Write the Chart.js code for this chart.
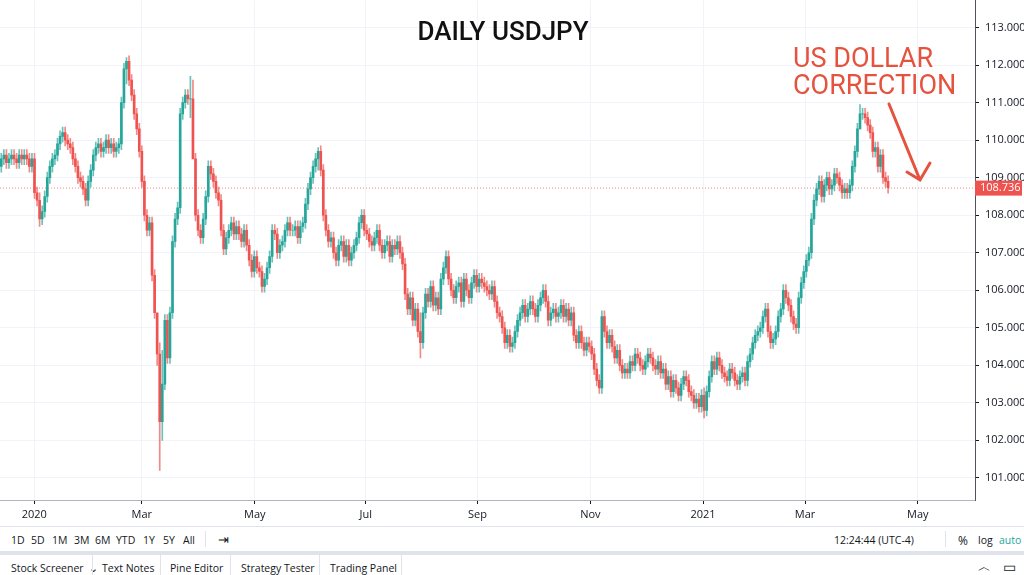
<!DOCTYPE html>
<html><head><meta charset="utf-8">
<script src="https://cdn.jsdelivr.net/npm/chart.js@4"></script>
<style>
body{margin:0;width:1024px;height:575px;overflow:hidden;background:#fff;font-family:"Open Sans",Roboto,sans-serif;color:#131722}
#wrap{position:absolute;left:0;top:-12px;width:1024px;height:538px}
.row{position:absolute;left:0;width:1024px;font-size:10.5px;background:#fff}
#tb{top:526px;height:25px;border-top:1px solid #e0e3eb}
#tb span{position:absolute;top:6px}
#tabs{top:551px;height:24px;border-top:4px solid #e0e3eb}
#tabs span{position:absolute;top:6px}
.sep{position:absolute;top:0;width:1px;height:24px;background:#e0e3eb}
</style></head><body>
<div id="wrap"><canvas id="c" width="1024" height="538"></canvas></div>
<div class="row" id="tb">
<span style="left:11px">1D</span><span style="left:31px">5D</span><span style="left:52px">1M</span><span style="left:74px">3M</span><span style="left:95px">6M</span><span style="left:116px">YTD</span><span style="left:143px">1Y</span><span style="left:163px">5Y</span><span style="left:183px">All</span>
<div class="sep" style="left:205px;top:4px;height:16px"></div>
<span style="left:218px;font-size:13px;top:3px">⇥</span>
<span style="left:834px">12:24:44 (UTC-4)</span>
<div class="sep" style="left:945px;top:4px;height:16px"></div>
<span style="left:958px;font-size:12px;top:5px">%</span><span style="left:978px">log</span><span style="left:999px;color:#26a69a">auto</span>
</div>
<div class="row" id="tabs">
<span style="left:11px">Stock Screener &nbsp;⌄</span><div class="sep" style="left:92px"></div>
<span style="left:102px">Text Notes</span><div class="sep" style="left:160px"></div>
<span style="left:170px">Pine Editor</span><div class="sep" style="left:230px"></div>
<span style="left:241px">Strategy Tester</span><div class="sep" style="left:319px"></div>
<span style="left:330px">Trading Panel</span><div class="sep" style="left:401px"></div>
<span style="left:978px;font-size:13px;top:2px">︿</span>
<span style="left:1003px;top:2px;font-size:14px">▭</span>
</div>
<script>
const closes = [
109.5,109.6,109.4,109.5,109.6,109.5,109.4,109.6,109.5,109.6,109.5,109.3,109.5,
108.6,108.4,107.9,108.1,108.5,
109.0,109.3,109.5,109.6,109.9,110.1,110.2,110.0,
109.9,109.8,109.5,109.3,109.0,108.9,108.7,108.4,108.9,
109.2,109.6,109.8,109.9,109.7,109.8,110.0,109.8,109.9,109.7,109.8,109.9,
111.0,111.9,112.1,111.6,
111.2,110.7,110.3,109.7,108.9,108.0,107.6,107.8,106.4,105.4,
104.3,102.5,103.5,105.2,104.2,105.4,107.3,107.9,108.2,
110.7,111.0,111.2,111.1,111.1,109.5,
108.0,107.6,107.4,107.9,
108.5,109.3,109.1,108.9,108.6,108.4,
107.6,107.1,107.4,107.6,107.8,107.5,107.7,107.5,107.3,107.6,107.2,106.8,106.5,
106.9,106.6,106.5,106.1,106.3,106.6,106.9,
107.6,107.5,107.0,107.2,107.3,107.6,107.8,107.6,107.6,107.7,107.4,107.7,
107.8,108.3,108.7,109.0,109.3,109.5,109.7,109.2,
108.0,107.6,107.3,107.4,107.0,106.8,107.2,107.3,106.9,107.2,
106.8,107.0,107.2,107.4,107.8,108.0,
107.6,107.5,107.3,107.2,107.4,107.6,107.2,107.0,107.2,107.3,106.9,107.2,107.1,107.3,107.0,
106.7,105.9,105.5,105.8,105.2,105.5,104.9,104.6,
105.4,105.9,105.7,106.1,105.6,105.8,105.5,106.3,106.6,106.9,
106.3,106.0,105.8,106.1,106.2,105.7,106.3,106.0,105.8,106.2,106.4,106.1,106.3,
106.2,106.1,106.0,105.9,106.1,105.7,105.4,105.3,
105.0,104.6,104.8,104.5,104.6,104.9,
105.2,105.4,105.6,105.3,105.5,105.7,105.5,105.3,105.6,105.8,106.0,105.7,
105.2,105.4,105.5,105.3,105.4,105.6,105.3,105.5,105.2,105.4,
104.8,104.6,104.9,104.6,104.4,104.6,104.5,104.3,103.9,103.6,103.4,
105.3,104.9,104.6,104.8,104.5,104.2,104.4,104.0,103.8,103.9,
103.8,104.1,104.0,104.3,104.2,104.0,103.9,104.1,104.3,104.2,104.0,103.9,
104.1,103.8,103.9,103.5,103.7,103.3,103.6,103.4,103.2,103.5,103.7,103.6,103.3,103.2,103.0,103.1,102.9,
103.2,102.8,103.3,103.7,104.1,103.9,104.2,104.0,
103.8,103.7,103.6,103.9,103.8,103.6,103.5,103.7,103.8,103.6,
104.1,104.3,104.6,104.8,104.9,105.0,105.3,105.5,
104.9,104.6,104.7,104.9,
105.3,105.5,106.0,105.8,105.6,105.3,105.1,105.0,
105.8,106.2,106.5,106.8,107.0,107.9,108.4,108.7,
108.9,108.5,108.8,109.0,108.7,108.8,109.1,109.0,108.8,108.6,108.7,108.6,108.8,
109.3,109.7,110.3,110.7,110.7,110.6,
110.4,110.2,109.7,109.8,109.3,109.6,109.0,108.9,108.736
];
const firstOpen = 109.3;
// notable wick extremes: [index, low, high]
const wickExtremes = [[15,107.7,108.6],[49,111.5,112.2],[61,104.0,105.3],[62,101.2,104.6],[63,102.0,104.4],[74,110.6,111.7],[75,110.5,111.6],[124,109.2,109.8],[164,104.2,105.4],[275,102.6,103.4],[336,110.3,110.95]];
const tickIdx = [12.9,55,99.2,142.6,186.3,230.5,274.6,314.5,358.6];
const tickLabels = ['2020','Mar','May','Jul','Sep','Nov','2021','Mar','May'];
const GREEN='#26a69a', RED='#ef5350';

const body=[], wick=[], bc=[];
const ext={}; wickExtremes.forEach(e=>ext[e[0]]=[e[1],e[2]]);
closes.forEach((c,i)=>{
  const o = i===0?firstOpen:closes[i-1];
  const lo = ext[i]?ext[i][0]:Math.min(o,c)-0.15, hi = ext[i]?ext[i][1]:Math.max(o,c)+0.15;
  body.push({x:i,y:[o,c]}); wick.push({x:i,y:[lo,hi]});
  bc.push(c>=o?GREEN:RED);
});
const last = closes[closes.length-1];

const deco={id:'deco',
 afterDatasetsDraw(ch){
  const {ctx,chartArea:a,scales:{y}}=ch;
  const py=y.getPixelForValue(last);
  const T=12;
  ctx.save();
  ctx.strokeStyle='rgba(239,83,80,0.7)';ctx.setLineDash([1,2]);ctx.lineWidth=1;
  ctx.beginPath();ctx.moveTo(a.left,py+0.5);ctx.lineTo(a.right,py+0.5);ctx.stroke();
  ctx.setLineDash([]);
  ctx.fillStyle=RED;ctx.fillRect(a.right,py-7,47,15);
  ctx.fillStyle='#fff';ctx.font='11px "Open Sans",sans-serif';ctx.textBaseline='middle';
  ctx.fillText(last.toFixed(3),a.right+5,py+0.5);
  ctx.textBaseline='alphabetic';
  ctx.fillStyle='#111';ctx.font='500 26px Roboto,sans-serif';ctx.textAlign='center';
  ctx.fillText('DAILY USDJPY',503,40+T);
  ctx.fillStyle='#e5533f';ctx.font='27px Roboto,sans-serif';ctx.textAlign='left';
  ctx.fillText('US DOLLAR',793,67+T);ctx.fillText('CORRECTION',793,94+T);
  ctx.strokeStyle='#e5533f';ctx.lineWidth=3;ctx.lineCap='round';
  ctx.beginPath();ctx.moveTo(889,104+T);ctx.lineTo(920,180+T);ctx.moveTo(907,172+T);ctx.lineTo(920,180+T);ctx.lineTo(930,163+T);ctx.stroke();
  ctx.restore();
 }};

new Chart(document.getElementById('c'),{
 type:'bar',
 data:{datasets:[
  {data:wick,backgroundColor:bc.map(c=>c+'b0'),barThickness:1,grouped:false,order:2},
  {data:body,backgroundColor:bc,barThickness:2,grouped:false,order:1}
 ]},
 options:{responsive:false,animation:false,parsing:{xAxisKey:'x',yAxisKey:'y'},
  layout:{padding:0},
  plugins:{legend:{display:false},tooltip:{enabled:false}},
  scales:{
   x:{type:'linear',min:-0.5,max:381,offset:false,
     afterBuildTicks:s=>{s.ticks=tickIdx.map(v=>({value:v}));},
     afterFit:s=>{s.height=26;},
     ticks:{autoSkip:false,maxRotation:0,color:'#131722',font:{size:11,family:'"Open Sans",sans-serif'},padding:4,
       callback:(v,i)=>tickLabels[i]},
     grid:{offset:false,color:'#f0f3fa',tickLength:4,tickColor:'#131722'},border:{color:'#b2b5be'}},
   y:{position:'right',min:100.41,max:113.72,
     afterBuildTicks:s=>{const t=[];for(let v=101;v<=113;v++)t.push({value:v});s.ticks=t;},
     afterFit:s=>{s.width=49;},
     ticks:{color:'#131722',font:{size:11,family:'"Open Sans",sans-serif'},padding:6,callback:v=>v.toFixed(3)},
     grid:{offset:false,color:'#f0f3fa',tickLength:4,tickColor:'#131722'},border:{color:'#50535e'}}
  }},
 plugins:[deco]
});
</script>
</body></html>
